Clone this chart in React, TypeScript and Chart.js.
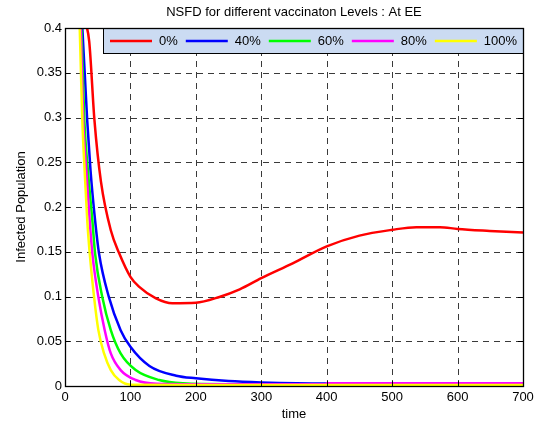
import React, { useEffect, useRef } from "react";
import { Chart, registerables } from "chart.js";

Chart.register(...registerables);

const TITLE = "NSFD for different vaccinaton Levels : At EE";
const X_LABEL = "time";
const Y_LABEL = "Infected Population";
const X_TICKS = [0, 100, 200, 300, 400, 500, 600, 700];
const Y_TICKS = [0, 0.05, 0.1, 0.15, 0.2, 0.25, 0.3, 0.35, 0.4];

const SERIES_LABELS = ["0%", "40%", "60%", "80%", "100%"];
const SERIES_COLORS = ["#ff0000", "#0000ff", "#00ff00", "#ff00ff", "#ffff00"];

// 0% vaccination
const t0 = [30, 37, 45, 55, 70, 83, 100, 113, 139, 164, 200, 236, 267, 300, 348, 400, 450, 500, 537, 573, 600, 649, 700];
const v0 = [0.41, 0.385, 0.297, 0.228, 0.174, 0.148, 0.122, 0.111, 0.098, 0.0925, 0.093, 0.0995, 0.108, 0.1205, 0.137, 0.156, 0.168, 0.1745, 0.1775, 0.1775, 0.1755, 0.1733, 0.1714];
// 40%
const t40 = [22, 26.5, 34, 39, 46, 52, 67, 85, 100, 129, 170, 200, 250, 300, 400, 500, 600, 700];
const v40 = [0.48, 0.4, 0.296, 0.241, 0.185, 0.148, 0.0995, 0.0624, 0.0438, 0.0224, 0.0115, 0.0086, 0.0055, 0.004, 0.0028, 0.0028, 0.0028, 0.0028];
// 60%
const t60 = [21, 25, 29.6, 35, 41.8, 46, 57, 70, 85, 108, 144, 180, 250, 400, 550, 700];
const v60 = [0.48, 0.4, 0.296, 0.241, 0.185, 0.148, 0.0995, 0.0624, 0.0364, 0.0178, 0.0067, 0.003, 0.002, 0.002, 0.002, 0.002];
// 80%
const t80 = [20, 24, 27.8, 32.6, 37.7, 41.8, 51, 60.7, 70, 85, 108, 140, 200, 399, 400, 550, 700];
const v80 = [0.48, 0.4, 0.296, 0.241, 0.185, 0.148, 0.0995, 0.0624, 0.0364, 0.0178, 0.0067, 0.0025, 0.002, 0.002, 0.0032, 0.0032, 0.0032];
// 100%
const t100 = [19, 22.5, 26.5, 30, 34, 37.8, 44.4, 51, 59.7, 70, 82.7, 100, 200, 400, 550, 700];
const v100 = [0.48, 0.4, 0.296, 0.241, 0.185, 0.148, 0.0995, 0.0624, 0.0364, 0.0178, 0.0067, 0.0015, 0.0012, 0.0012, 0.0012, 0.0012];

const SERIES_T = [t0, t40, t60, t80, t100];
const SERIES_V = [v0, v40, v60, v80, v100];

const FONT = "13px 'Liberation Sans', Arial, sans-serif";

const fmt = (v: number) => String(Number(v.toFixed(2)));

const matlabPlugin = {
  id: "matlabDecor",
  beforeDatasetsDraw(chart: any) {
    const { ctx, chartArea: a, scales } = chart;
    ctx.save();
    ctx.strokeStyle = "#3a3a3a";
    ctx.lineWidth = 1;
    ctx.setLineDash([6, 5]);
    for (const t of X_TICKS) {
      const x = Math.round(scales.x.getPixelForValue(t)) + 0.5;
      if (x <= a.left + 1 || x >= a.right - 1) continue;
      ctx.beginPath();
      ctx.moveTo(x, a.bottom);
      ctx.lineTo(x, a.top);
      ctx.stroke();
    }
    for (const v of Y_TICKS) {
      const y = Math.round(scales.y.getPixelForValue(v)) + 0.5;
      if (y <= a.top + 1 || y >= a.bottom - 1) continue;
      ctx.beginPath();
      ctx.moveTo(a.left, y);
      ctx.lineTo(a.right, y);
      ctx.stroke();
    }
    ctx.restore();
  },
  afterDatasetsDraw(chart: any) {
    const { ctx, chartArea: a, scales } = chart;
    ctx.save();
    ctx.setLineDash([]);
    // ticks inside on all sides
    ctx.strokeStyle = "#000";
    ctx.lineWidth = 1;
    const tl = 5;
    for (const t of X_TICKS) {
      const x = Math.round(scales.x.getPixelForValue(t)) + 0.5;
      ctx.beginPath();
      ctx.moveTo(x, a.bottom);
      ctx.lineTo(x, a.bottom - tl);
      ctx.moveTo(x, a.top);
      ctx.lineTo(x, a.top + tl);
      ctx.stroke();
    }
    for (const v of Y_TICKS) {
      const y = Math.round(scales.y.getPixelForValue(v)) + 0.5;
      ctx.beginPath();
      ctx.moveTo(a.left, y);
      ctx.lineTo(a.left + tl, y);
      ctx.moveTo(a.right, y);
      ctx.lineTo(a.right - tl, y);
      ctx.stroke();
    }

    // legend
    ctx.font = FONT;
    const lineLen = 42;
    const widths = SERIES_LABELS.map((s) => ctx.measureText(s).width);
    const padL = 7;
    const padR = 6;
    const gapLT = 7;
    const gapItem = 8;
    let total = padL + padR;
    widths.forEach((w, i) => {
      total += lineLen + gapLT + w + (i < widths.length - 1 ? gapItem : 0);
    });
    const bh = 25;
    const bx = Math.round(a.right - total);
    const by = Math.round(a.top);
    ctx.fillStyle = "#cbdbf2";
    ctx.fillRect(bx, by, Math.round(a.right) - bx, bh);
    ctx.strokeStyle = "#000";
    ctx.lineWidth = 1;
    ctx.strokeRect(bx + 0.5, by + 0.5, Math.round(a.right) - bx, bh);
    let x = bx + padL;
    const ly = by + bh / 2 + 0.5;
    SERIES_LABELS.forEach((lab, i) => {
      ctx.strokeStyle = SERIES_COLORS[i];
      ctx.lineWidth = 2.5;
      ctx.beginPath();
      ctx.moveTo(x, ly);
      ctx.lineTo(x + lineLen, ly);
      ctx.stroke();
      x += lineLen + gapLT;
      ctx.fillStyle = "#000";
      ctx.textAlign = "left";
      ctx.textBaseline = "middle";
      ctx.fillText(lab, x, ly);
      x += widths[i] + gapItem;
    });
    // box
    ctx.lineWidth = 1.3;
    ctx.strokeStyle = "#000";
    ctx.strokeRect(Math.round(a.left) + 0.5, Math.round(a.top) + 0.5, Math.round(a.right - a.left), Math.round(a.bottom - a.top));

    // tick labels
    ctx.fillStyle = "#000";
    ctx.font = FONT;
    ctx.textAlign = "center";
    ctx.textBaseline = "middle";
    for (const t of X_TICKS) {
      ctx.fillText(String(t), scales.x.getPixelForValue(t), a.bottom + 11);
    }
    ctx.textAlign = "right";
    for (const v of Y_TICKS) {
      ctx.fillText(fmt(v), a.left - 3, scales.y.getPixelForValue(v));
    }
    // axis labels
    ctx.textAlign = "center";
    ctx.fillText(X_LABEL, (a.left + a.right) / 2, a.bottom + 28);
    ctx.save();
    ctx.translate(21, (a.top + a.bottom) / 2);
    ctx.rotate(-Math.PI / 2);
    ctx.fillText(Y_LABEL, 0, 0);
    ctx.restore();
    // title
    ctx.fillText(TITLE, (a.left + a.right) / 2, 12);
    ctx.restore();
  },
};

export default function App() {
  const ref = useRef<HTMLCanvasElement | null>(null);
  useEffect(() => {
    if (!ref.current) return;
    const datasets = SERIES_LABELS.map((lab, i) => ({
      label: lab,
      data: SERIES_T[i].map((t, j) => ({ x: t, y: SERIES_V[i][j] })),
      borderColor: SERIES_COLORS[i],
      backgroundColor: SERIES_COLORS[i],
      borderWidth: 2.5,
      pointRadius: 0,
      fill: false,
      cubicInterpolationMode: "monotone" as const,
      order: SERIES_LABELS.length - i,
    }));
    const chart = new Chart(ref.current, {
      type: "line",
      data: { datasets },
      options: {
        animation: false,
        responsive: false,
        devicePixelRatio: 1,
        layout: { padding: { left: 65, right: 16, top: 28, bottom: 39 } },
        plugins: { legend: { display: false }, title: { display: false }, tooltip: { enabled: false } },
        scales: {
          x: { type: "linear", min: 0, max: 700, display: false },
          y: { type: "linear", min: 0, max: 0.4, display: false },
        },
      },
      plugins: [matlabPlugin],
    });
    return () => chart.destroy();
  }, []);
  return (
    <div style={{ position: "fixed", left: 0, top: 0, width: 539, height: 425, background: "#fff" }}>
      <canvas ref={ref} width={539} height={425} />
    </div>
  );
}
